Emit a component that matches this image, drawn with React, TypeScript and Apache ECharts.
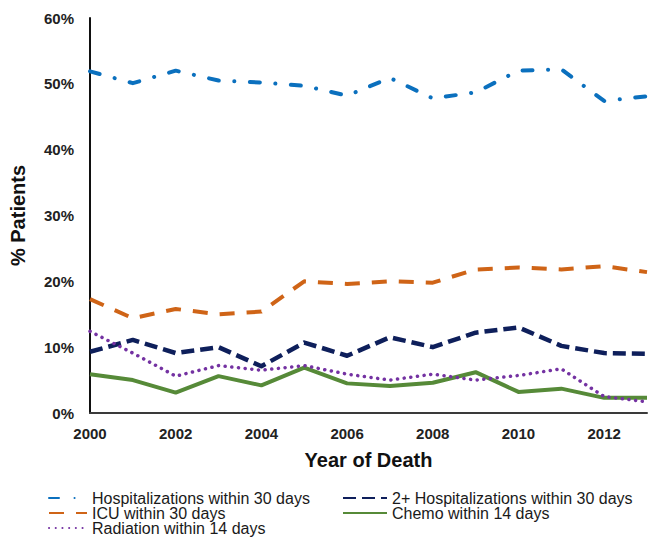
import React, { useEffect, useRef } from "react";
import * as echarts from "echarts";

const years = ["2000", "2001", "2002", "2003", "2004", "2005", "2006", "2007", "2008", "2009", "2010", "2011", "2012", "2013"];
const yTicks = [0, 10, 20, 30, 40, 50, 60];
const hospitalizations = [51.9, 50.1, 52.0, 50.5, 50.2, 49.7, 48.2, 50.9, 47.8, 48.7, 52.0, 52.2, 47.4, 48.1];
const icu = [17.3, 14.4, 15.8, 15.0, 15.4, 20.0, 19.6, 20.0, 19.8, 21.8, 22.1, 21.8, 22.3, 21.4];
const hosp2plus = [9.3, 11.1, 9.1, 10.0, 7.1, 10.7, 8.7, 11.5, 10.0, 12.2, 13.0, 10.2, 9.1, 9.0];
const chemo = [5.9, 5.0, 3.1, 5.6, 4.2, 6.9, 4.5, 4.1, 4.6, 6.2, 3.2, 3.7, 2.3, 2.3];
const radiation = [12.4, 9.1, 5.6, 7.2, 6.5, 7.2, 5.9, 5.0, 5.9, 5.0, 5.7, 6.7, 2.5, 1.7];

const FONT = "'Liberation Sans', Arial, sans-serif";

export default function App() {
  const ref = useRef<HTMLDivElement>(null);
  useEffect(() => {
    if (!ref.current) return;
    const chart = echarts.init(ref.current, null, { renderer: "svg" });
    const mk = (name: string, data: number[], color: string, width: number, type: any, cap: any, z: number) => ({
      name,
      type: "line",
      data,
      symbol: "none",
      z,
      lineStyle: { color, width, type, cap, join: "round" },
      itemStyle: { color },
    });
    const leg = (name: string, left: number, top: number, w: number) => ({
      orient: "horizontal",
      left,
      top,
      itemWidth: w,
      itemHeight: 14,
      itemGap: 0,
      padding: 0,
      data: [name],
      itemStyle: { color: "rgba(0,0,0,0)", borderWidth: 0 },
      textStyle: { fontFamily: FONT, fontSize: 16, lineHeight: 14, color: "#1a1a1a" },
    });
    chart.setOption({
      animation: false,
      textStyle: { fontFamily: FONT },
      grid: { left: 84, right: 1, top: 18, bottom: 126, containLabel: false },
      xAxis: {
        type: "category",
        data: years,
        boundaryGap: false,
        name: "Year of Death",
        nameLocation: "middle",
        nameGap: 37,
        nameTextStyle: { fontFamily: FONT, fontSize: 20, fontWeight: "bold", color: "#111" },
        axisLine: { lineStyle: { color: "#3a3a3a", width: 2 } },
        axisTick: { show: false },
        axisLabel: { interval: 1, margin: 13, fontFamily: FONT, fontSize: 15, fontWeight: "bold", color: "#222" },
        splitLine: { show: false },
      },
      yAxis: {
        type: "value",
        min: yTicks[0],
        max: yTicks[yTicks.length - 1],
        interval: 10,
        name: "% Patients",
        nameLocation: "middle",
        nameGap: 62,
        nameTextStyle: { fontFamily: FONT, fontSize: 20, fontWeight: "bold", color: "#111" },
        axisLine: { show: true, lineStyle: { color: "#111", width: 2 } },
        axisTick: { show: false },
        axisLabel: { formatter: "{value}%", margin: 16, fontFamily: FONT, fontSize: 15, fontWeight: "bold", color: "#222" },
        splitLine: { show: false },
      },
      legend: [
        leg("Hospitalizations within 30 days", 48, 490, 38),
        leg("ICU within 30 days", 48, 505, 38),
        leg("Radiation within 14 days", 48, 520, 38),
        leg("2+ Hospitalizations within 30 days", 342, 490, 44),
        leg("Chemo within 14 days", 342, 505, 44),
      ],
      series: [
        mk("Hospitalizations within 30 days", hospitalizations, "#0B70BE", 4, [10, 15.5, 0.1, 15.5], "round", 5),
        mk("2+ Hospitalizations within 30 days", hosp2plus, "#0E1F5B", 4.5, [13, 6], "butt", 4),
        mk("ICU within 30 days", icu, "#CF6417", 4, [15, 12], "butt", 3),
        mk("Chemo within 14 days", chemo, "#568A38", 4, "solid", "butt", 2),
        mk("Radiation within 14 days", radiation, "#7432A2", 3.5, [0.1, 6.6], "round", 6),
      ],
    });
    return () => chart.dispose();
  }, []);
  return <div ref={ref} style={{ position: "fixed", left: 0, top: 0, width: 648, height: 539, background: "#fff" }} />;
}
